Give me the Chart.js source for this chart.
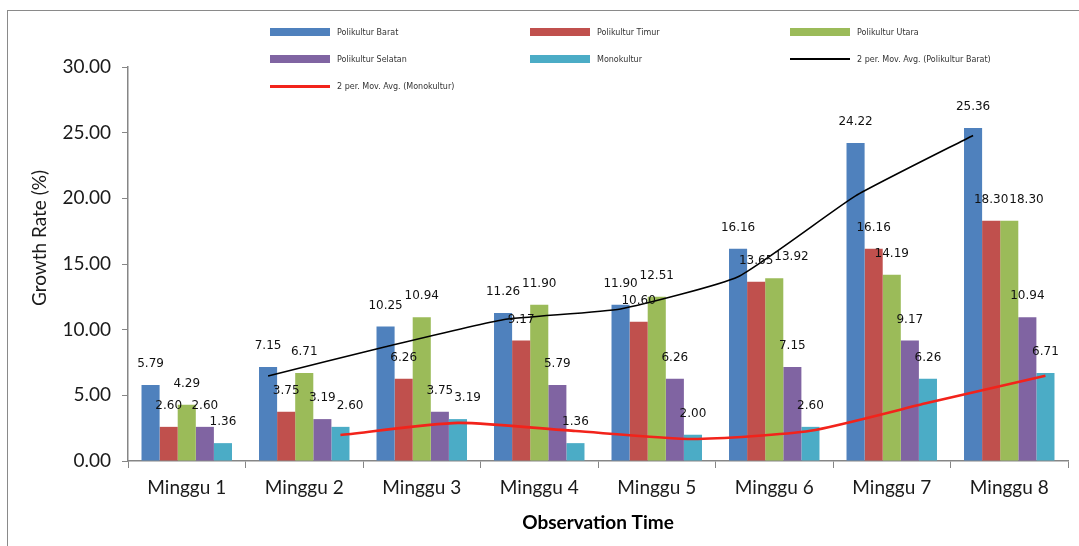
<!DOCTYPE html>
<html>
<head>
<meta charset="utf-8">
<title>Growth Rate</title>
<script src="https://cdn.jsdelivr.net/npm/chart.js@4.4.1/dist/chart.umd.min.js"></script>
<style>
  html, body { margin: 0; padding: 0; background: #fff; overflow: hidden; }
  #wrap { position: relative; width: 1079px; height: 546px; }
  #frame { position: absolute; left: 7px; top: 10px; width: 1100px; height: 560px;
           border: 1.5px solid #8a8a8a; box-sizing: border-box; pointer-events: none; }
  #chart { position: absolute; left: 0; top: 0; }
  #legend { position: absolute; left: 270px; top: 22px; display: grid;
            grid-template-columns: 260px 260px 260px; grid-auto-rows: 27px;
            font: 8px "DejaVu Sans", sans-serif; color: #333; }
  .item { display: flex; align-items: center; height: 20px; white-space: nowrap; }
  .sw { width: 60px; margin-right: 7px; }
</style>
</head>
<body>
<div id="wrap">
  <canvas id="chart" width="1079" height="546"></canvas>
  <div id="frame"></div>
  <div id="legend"></div>
</div>
<script>
// Weekly observations
const categories = ['Minggu 1', 'Minggu 2', 'Minggu 3', 'Minggu 4', 'Minggu 5', 'Minggu 6', 'Minggu 7', 'Minggu 8'];

// Growth rate (%) per plot
const barat      = [5.79, 7.15, 10.25, 11.26, 11.90, 16.16, 24.22, 25.36];
const timur      = [2.60, 3.75, 6.26, 9.17, 10.60, 13.65, 16.16, 18.30];
const utara      = [4.29, 6.71, 10.94, 11.90, 12.51, 13.92, 14.19, 18.30];
const selatan    = [2.60, 3.19, 3.75, 5.79, 6.26, 7.15, 9.17, 10.94];
const monokultur = [1.36, 2.60, 3.19, 1.36, 2.00, 2.60, 6.26, 6.71];

// 2-period moving averages (start at week 2)
const maBarat      = [null, 6.47, 8.70, 10.76, 11.58, 14.03, 20.19, 24.79];
const maMonokultur = [null, 1.98, 2.90, 2.28, 1.68, 2.30, 4.43, 6.49];

// Y axis ticks
const yTickValues = [0, 5, 10, 15, 20, 25, 30];

const CATEGORY_PCT = 0.77;
const BAR_SLOT = CATEGORY_PCT / 5;          // width of one bar, in category units
const FIRST_BAR = -2 * BAR_SLOT;            // centre of the first bar in a group
const LAST_BAR = 2 * BAR_SLOT;              // centre of the last bar in a group

const axisFont = { family: 'Lato, "Open Sans", sans-serif', size: 19 };

// Trend line points sit over a given bar of each group (category index + shift)
function trendPoints(values, shift) {
  return values
    .map((v, i) => ({ x: i + shift, y: v }))
    .filter(p => p.y !== null);
}

function barSet(label, data, color) {
  return {
    type: 'bar', label, data,
    backgroundColor: color, borderWidth: 0,
    order: 1,
    categoryPercentage: CATEGORY_PCT, barPercentage: 1.0
  };
}

// Value labels above each bar; a label that would collide with an
// earlier one in the same group is nudged to the right
const valueLabels = {
  id: 'valueLabels',
  afterDatasetsDraw(chart) {
    const ctx = chart.ctx;
    ctx.save();
    ctx.font = '12px "DejaVu Sans", sans-serif';
    ctx.fillStyle = '#111';
    ctx.textAlign = 'center';
    ctx.textBaseline = 'middle';
    const placed = chart.data.labels.map(() => []);
    chart.data.datasets.forEach((ds, di) => {
      if (ds.type !== 'bar') return;
      const meta = chart.getDatasetMeta(di);
      meta.data.forEach((el, i) => {
        const text = ds.data[i].toFixed(2);
        const w = ctx.measureText(text).width;
        const y = el.y - 21;
        let x = el.x;
        for (const b of placed[i]) {
          if (Math.abs(b.y - y) < 11 && Math.abs(b.x - x) < (b.w + w) / 2 - 1) {
            x = b.x + (b.w + w) / 2 + 1;
          }
        }
        placed[i].push({ x, y, w });
        ctx.fillText(text, x, y);
      });
    });
    ctx.restore();
  }
};

// Rotated y axis title
const yTitle = {
  id: 'yTitle',
  afterDraw(chart) {
    const ctx = chart.ctx;
    ctx.save();
    ctx.translate(40, 238);
    ctx.rotate(-Math.PI / 2);
    ctx.font = '19px Lato, "Open Sans", sans-serif';
    ctx.fillStyle = '#1a1a1a';
    ctx.textAlign = 'center';
    ctx.textBaseline = 'middle';
    ctx.fillText('Growth Rate (%)', 0, 0);
    ctx.restore();
  }
};

const chart = new Chart(document.getElementById('chart'), {
  type: 'bar',
  data: {
    labels: categories,
    datasets: [
      barSet('Polikultur Barat', barat, '#4F81BD'),
      barSet('Polikultur Timur', timur, '#C0504D'),
      barSet('Polikultur Utara', utara, '#9BBB59'),
      barSet('Polikultur Selatan', selatan, '#8064A2'),
      barSet('Monokultur', monokultur, '#4BACC6'),
      {
        type: 'line', label: '2 per. Mov. Avg. (Polikultur Barat)',
        data: trendPoints(maBarat, FIRST_BAR), parsing: false,
        borderColor: '#000', borderWidth: 1.6, pointRadius: 0, tension: 0.15,
        order: 0
      },
      {
        type: 'line', label: '2 per. Mov. Avg. (Monokultur)',
        data: trendPoints(maMonokultur, LAST_BAR), parsing: false,
        borderColor: '#f2231b', borderWidth: 2.6, pointRadius: 0, tension: 0.2,
        order: 0
      }
    ]
  },
  options: {
    responsive: false,
    animation: false,
    layout: { padding: { left: 8, top: 67, right: 11, bottom: 0 } },
    plugins: { legend: { display: false }, tooltip: { enabled: false } },
    scales: {
      x: {
        type: 'category',
        offset: true,
        grid: { offset: true, drawOnChartArea: false, drawTicks: true, tickLength: 7, color: '#868686' },
        border: { display: true, color: '#868686', width: 1.5 },
        ticks: { font: axisFont, color: '#1a1a1a', padding: 8, maxRotation: 0 },
        title: {
          display: true, text: 'Observation Time', color: '#000',
          font: { family: axisFont.family, size: 19, weight: 'bold' },
          padding: { top: 12, bottom: 12 }
        },
        afterFit(scale) { scale.height = 85; }
      },
      y: {
        type: 'linear', min: 0, max: 30,
        afterBuildTicks(scale) { scale.ticks = yTickValues.map(v => ({ value: v })); },
        grid: { drawOnChartArea: false, drawTicks: true, tickLength: 6, color: '#868686' },
        border: { display: true, color: '#868686', width: 1.5 },
        ticks: { font: axisFont, color: '#1a1a1a', padding: 11, callback: v => Number(v).toFixed(2) },
        title: { display: false },
        afterFit(scale) { scale.width = 120; }
      }
    }
  },
  plugins: [valueLabels, yTitle]
});

// Three-column legend built from the chart's datasets
const legendEl = document.getElementById('legend');
chart.data.datasets.forEach(ds => {
  const item = document.createElement('div');
  item.className = 'item';
  const sw = document.createElement('div');
  sw.className = 'sw';
  if (ds.type === 'bar') {
    sw.style.height = '8px';
    sw.style.background = ds.backgroundColor;
  } else {
    sw.style.height = ds.borderWidth > 2 ? '3px' : '2px';
    sw.style.background = ds.borderColor;
  }
  const txt = document.createElement('span');
  txt.textContent = ds.label;
  item.appendChild(sw);
  item.appendChild(txt);
  legendEl.appendChild(item);
});
</script>
</body>
</html>
